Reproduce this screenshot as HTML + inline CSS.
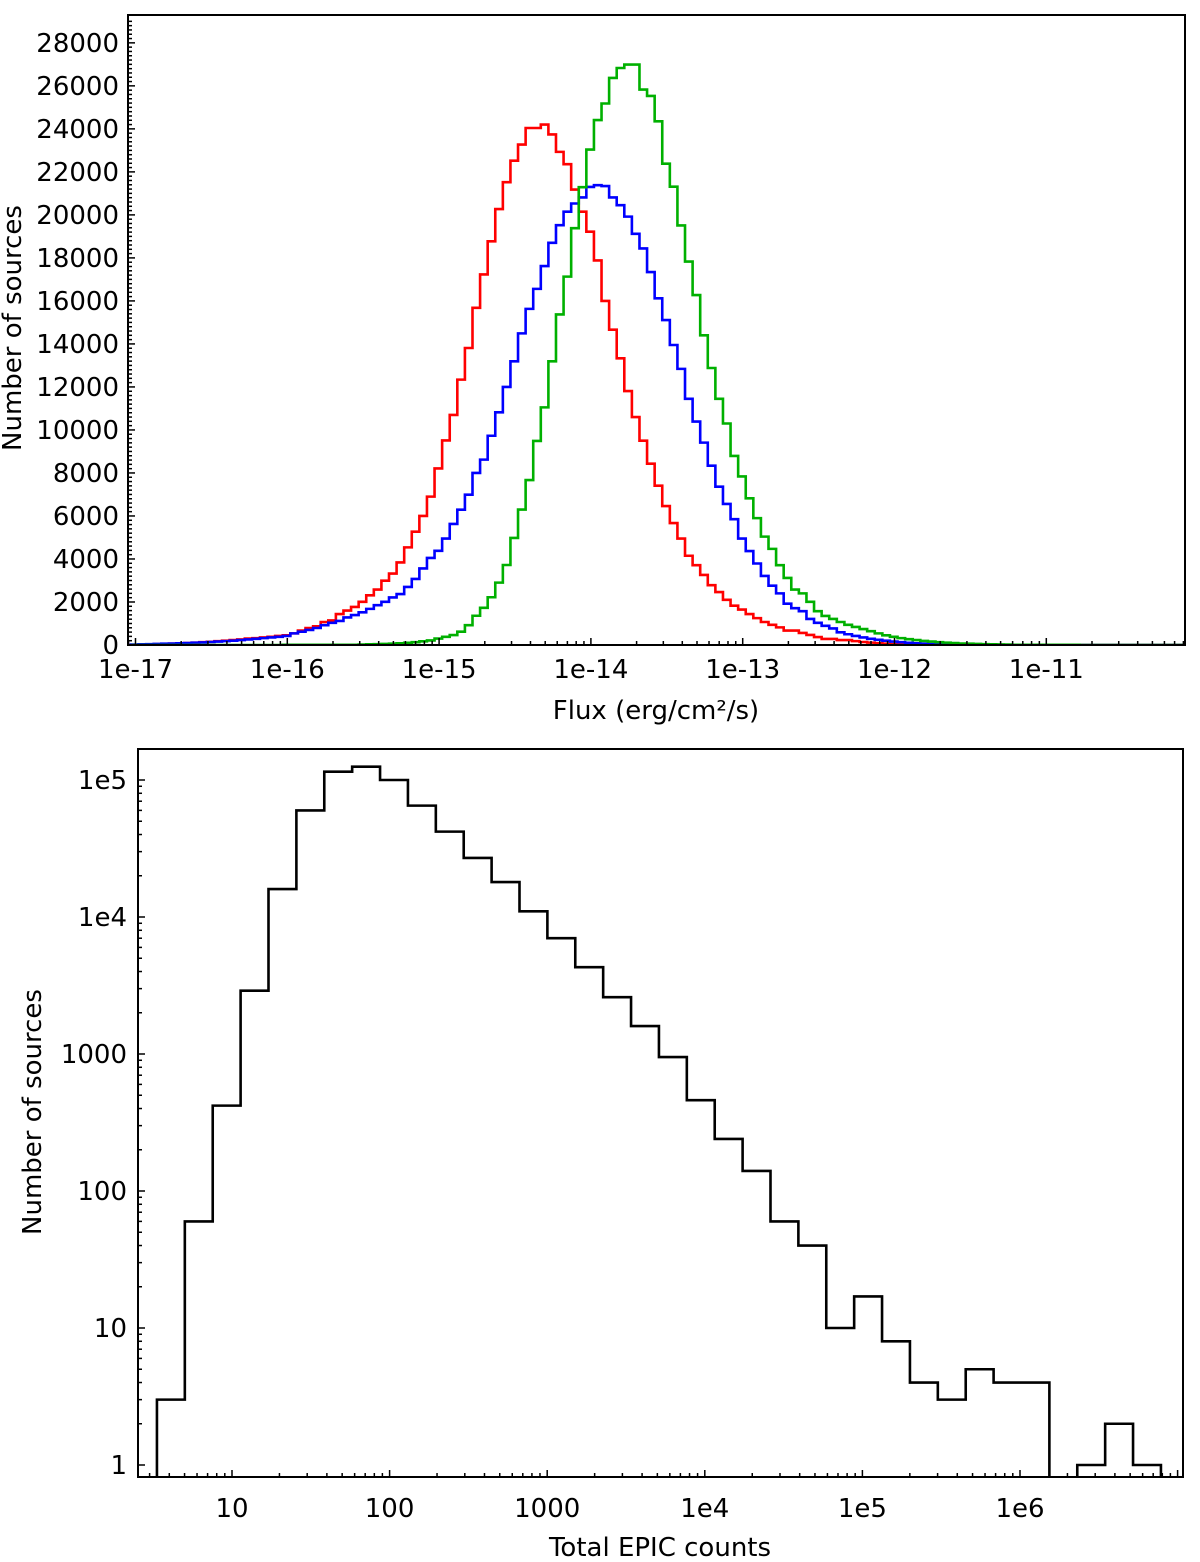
<!DOCTYPE html>
<html><head><meta charset="utf-8">
<style>
html,body{margin:0;padding:0;background:#fff;}
svg text{font-family:"DejaVu Sans","Liberation Sans",sans-serif;fill:#000;}
</style></head>
<body>
<svg id="chart" width="1200" height="1557" xmlns="http://www.w3.org/2000/svg">
<defs>
<clipPath id="clipTop"><rect x="128" y="15" width="1057" height="630"/></clipPath>
<clipPath id="clipBot"><rect x="138" y="749" width="1045" height="728"/></clipPath>
</defs>
<g id="topPanel"></g>
<g id="botPanel"></g>
</svg>
<script>
// ---- Top chart data (bins of 0.05 dex in log10 flux starting at -17.03) ----
const fluxBinStart = -17.03;
const fluxBinWidth = 0.05;
const redCounts = [10,20,30,40,50,60,80,90,110,130,150,180,200,230,260,300,320,350,380,420,
450,540,670,790,870,1070,1140,1440,1600,1770,2010,2310,2580,2990,3320,3840,4540,5270,6000,6900,8210,9510,10700,12340,
13810,15680,17230,18770,20270,21520,22520,23270,24040,24040,24200,23740,22930,22360,21180,20150,19220,17880,16000,
14660,13330,11810,10600,9500,8430,7410,6460,5670,4950,4150,3710,3260,2780,2460,2100,1830,1650,1440,1250,1070,940,820,670,670,560,470,370,280,280,230,230,
180,140,110,80,60,40,30,20,15,10,10,5,5,5,5];
const blueCounts = [20,30,40,50,60,70,80,90,110,120,140,160,180,200,230,260,290,320,350,380,
420,540,620,700,790,920,1030,1120,1280,1390,1520,1680,1850,2010,2210,2370,2700,3070,3560,4050,4380,4950,5630,6290,
6990,8000,8620,9730,10820,12000,13190,14490,15630,16560,17620,18700,19520,20150,20530,20810,21300,21380,
21340,20810,20450,19920,19120,18440,17340,16120,15110,13950,12840,11450,10390,9410,8340,7360,6560,5850,4950,4370,3790,3210,2760,2400,1920,1710,1570,1210,1030,890,770,590,
500,420,350,290,240,200,160,130,100,80,60,45,35,25,20,15,10,10,5,5];
const greenCounts = [0,0,0,0,0,0,0,0,0,0,0,0,0,0,0,0,0,0,0,0,
10,10,10,10,10,10,10,10,10,10,20,30,40,50,60,80,100,130,170,
210,300,380,460,620,920,1360,1730,2220,2900,3720,4980,6300,7670,9490,11050,13190,
15370,17130,19380,21290,23040,24410,25180,26370,26830,26990,26990,25830,25530,24350,22380,21310,19510,17830,16270,14400,12880,11450,10300,8790,7840,6820,5900,5040,4470,3710,3120,2580,2400,2010,1570,1350,1210,1070,940,
840,740,640,540,450,380,320,270,230,190,160,130,110,90,70,60,50,40,30,25,20,10,10,10,10,10,10,10,10,10];
const yTicksTop = [0,2000,4000,6000,8000,10000,12000,14000,16000,18000,20000,22000,24000,26000,28000];
const xTicksTop = [-17,-16,-15,-14,-13,-12,-11];
const xTickLabelsTop = ["1e-17","1e-16","1e-15","1e-14","1e-13","1e-12","1e-11"];

// ---- Bottom chart data (bins: factor ~1.5 starting at 3.34) ----
const countsBinStart = 3.34;
const countsBinFactor = 1.503;
const epicCounts = [3,60,420,2900,16000,60000,115000,125000,100000,65000,42000,27000,18000,11000,7000,4300,2600,1600,950,460,240,140,60,40,10,17,8,4,3,5,4,4,0,1,2,1];
const xTicksBot = [1,2,3,4,5,6];
const xTickLabelsBot = ["10","100","1000","1e4","1e5","1e6"];
const yTicksBot = [0,1,2,3,4,5];
const yTickLabelsBot = ["1","10","100","1000","1e4","1e5"];

(function(){
const NS = "http://www.w3.org/2000/svg";
const FS = 26;
function mk(tag, attrs, parent){const e=document.createElementNS(NS,tag);for(const k in attrs)e.setAttribute(k,attrs[k]);parent.appendChild(e);return e;}
function stepPath(vals, xf, yf, edgeF, n){
  let d = "M"+xf(edgeF(0))+","+yf(0);
  for(let i=0;i<n;i++){
    const v = i<vals.length?vals[i]:0;
    d += " L"+xf(edgeF(i))+","+yf(v)+" L"+xf(edgeF(i+1))+","+yf(v);
  }
  d += " L"+xf(edgeF(n))+","+yf(0);
  return d;
}

// ---- Top axes ----
const T = {x0:128,x1:1185,y0:645,y1:15};
function xTop(L){return 135.5+151.8*(L+17);}
function yTop(v){return 645 - v/46.5;}
const topG = document.getElementById('topPanel');
const edgeTop = i => fluxBinStart + fluxBinWidth*i;
const nTop = 139;
const gTop = mk('g',{'clip-path':'url(#clipTop)'},topG);
const seriesList = [[redCounts,'#ff0000','red-series'],[blueCounts,'#0000ff','blue-series'],[greenCounts,'#00b000','green-series']];
for(const s of seriesList){
  const p = mk('path',{d:stepPath(s[0],xTop,yTop,edgeTop,nTop),fill:'none',stroke:s[1],'stroke-width':2.6},gTop);
  
  
}
const fr1 = mk('rect',{x:T.x0,y:T.y1,width:T.x1-T.x0,height:T.y0-T.y1,fill:'none',stroke:'#000','stroke-width':2},topG);


for(let v=0; v<=29000; v+=200){
  const y=yTop(v); if(y<T.y1) break;
  mk('line',{x1:T.x0,x2:T.x0+(v%2000===0?7:4),y1:y,y2:y,stroke:'#000','stroke-width':1.5},topG);
}
for(const v of yTicksTop){
  const t = mk('text',{x:119,y:yTop(v)+9,'text-anchor':'end','font-size':FS},topG);
  t.textContent = v;
  
  
}
for(let d=-18; d<=-10; d++){
  for(let m=1;m<10;m++){
    const L = d+Math.log10(m); const x=xTop(L);
    if(x<T.x0||x>T.x1) continue;
    mk('line',{x1:x,x2:x,y1:T.y0,y2:T.y0-(m===1?7:4),stroke:'#000','stroke-width':1.5},topG);
  }
}
xTicksTop.forEach((L,i)=>{
  const t = mk('text',{x:xTop(L),y:678,'text-anchor':'middle','font-size':FS},topG);
  t.textContent = xTickLabelsTop[i];
  
  
});
const t1 = mk('text',{x:656,y:719,'text-anchor':'middle','font-size':FS},topG);
t1.textContent = "Flux (erg/cm²/s)";


const t2 = mk('text',{x:0,y:0,'text-anchor':'middle','font-size':FS,transform:'translate(21,328) rotate(-90)'},topG);
t2.textContent = "Number of sources";



// ---- Bottom axes ----
const B = {x0:138,x1:1183,y0:1477,y1:749};
function xBot(v){return 232+157.6*(Math.log10(v)-1);}
function yBot(v){ if(v<=0) return 1490; return 1465-137*Math.log10(v);}
const botG = document.getElementById('botPanel');
const gBot = mk('g',{'clip-path':'url(#clipBot)'},botG);
const edgeBot = i => countsBinStart*Math.pow(countsBinFactor,i);
const hp = mk('path',{d:stepPath(epicCounts,xBot,yBot,edgeBot,epicCounts.length),fill:'none',stroke:'#000','stroke-width':2.6},gBot);


const fr2 = mk('rect',{x:B.x0,y:B.y1,width:B.x1-B.x0,height:B.y0-B.y1,fill:'none',stroke:'#000','stroke-width':2},botG);


for(let d=0; d<=7; d++){
  for(let m=1;m<10;m++){
    const v=m*Math.pow(10,d); const x=xBot(v);
    if(x>B.x0&&x<B.x1) mk('line',{x1:x,x2:x,y1:B.y0,y2:B.y0-(m===1?7:4),stroke:'#000','stroke-width':1.5},botG);
    const y=yBot(v);
    if(y>B.y1&&y<B.y0) mk('line',{x1:B.x0,x2:B.x0+(m===1?7:4),y1:y,y2:y,stroke:'#000','stroke-width':1.5},botG);
  }
}
xTicksBot.forEach((p,i)=>{
  const t = mk('text',{x:xBot(Math.pow(10,p)),y:1517,'text-anchor':'middle','font-size':FS},botG);
  t.textContent = xTickLabelsBot[i];
  
  
});
yTicksBot.forEach((p,i)=>{
  const t = mk('text',{x:127,y:yBot(Math.pow(10,p))+9,'text-anchor':'end','font-size':FS},botG);
  t.textContent = yTickLabelsBot[i];
  
  
});
const t3 = mk('text',{x:660,y:1556,'text-anchor':'middle','font-size':FS},botG);
t3.textContent = "Total EPIC counts";


const t4 = mk('text',{x:0,y:0,'text-anchor':'middle','font-size':FS,transform:'translate(41,1112) rotate(-90)'},botG);
t4.textContent = "Number of sources";


})();
</script>
</body></html>
